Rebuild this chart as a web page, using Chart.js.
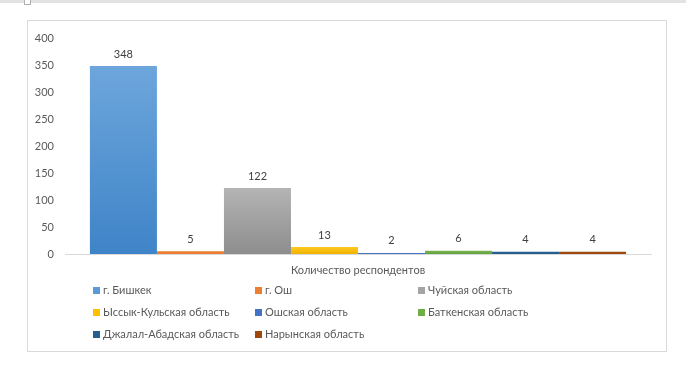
<!DOCTYPE html>
<html>
<head>
<meta charset="utf-8">
<script src="https://cdn.jsdelivr.net/npm/chart.js@4"></script>
<style>
  html, body { margin: 0; padding: 0; background: #fff; }
  body { width: 686px; height: 374px; position: relative; overflow: hidden; font-family: Lato, "Noto Sans", sans-serif; }
  #topstrip { position: absolute; left: 0; top: 0; width: 686px; height: 3px; background: #e3e3e3; }
  #handle { position: absolute; left: 24px; top: -2px; width: 5px; height: 5px; border: 1px solid #b0b0b0; background: #fff; }
  #frame { position: absolute; left: 27px; top: 20px; width: 638px; height: 330px; border: 1px solid #d9d9d9; }
  #c { position: absolute; left: 0; top: 0; }
  .lg { position: absolute; font-size: 11px; color: #595959; white-space: nowrap; line-height: 14px; }
  .lg i { display: inline-block; width: 7px; height: 7px; margin-right: 3px; vertical-align: 0px; }
</style>
</head>
<body>
<div id="topstrip"></div>
<div id="handle"></div>
<div id="frame"></div>
<canvas id="c" width="686" height="374"></canvas>
<div id="legend"></div>
<script>
const categories = ["Количество респондентов"];
const seriesNames = ["г. Бишкек", "г. Ош", "Чуйская область", "Ыссык-Кульская область", "Ошская область", "Баткенская область", "Джалал-Абадская область", "Нарынская область"];
const seriesValues = [348, 5, 122, 13, 2, 6, 4, 4];
const seriesColors = ["#5B9BD5", "#ED7D31", "#A5A5A5", "#FFC000", "#4472C4", "#70AD47", "#255E91", "#9E480E"];
const gradTop = ["#6DA6DC", "#F08A44", "#B4B4B4", "#FFC81F", "#5080CC", "#7CB656", "#2E6AA0", "#A85218"];
const gradBottom = ["#3F84C8", "#E07026", "#8D8D8D", "#F0B200", "#3A63B0", "#61A03B", "#1E5283", "#8F3F0A"];
const yTicks = [0, 50, 100, 150, 200, 250, 300, 350, 400];

const FONT = "Lato, 'Noto Sans', sans-serif";

const datasets = seriesNames.map((name, i) => ({
  label: name,
  data: [seriesValues[i]],
  backgroundColor: (ctx) => {
    const chart = ctx.chart;
    const ys = chart.scales && chart.scales.y;
    if (!ys || !chart.chartArea || ctx.raw === undefined) return seriesColors[i];
    const top = ys.getPixelForValue(ctx.raw);
    const bottom = ys.getPixelForValue(0);
    if (!isFinite(top) || bottom - top < 3) return seriesColors[i];
    const g = chart.ctx.createLinearGradient(0, top, 0, bottom);
    g.addColorStop(0, gradTop[i]);
    g.addColorStop(1, gradBottom[i]);
    return g;
  },
  borderWidth: 0,
  categoryPercentage: 0.915,
  barPercentage: 1.0
}));

const valueLabels = {
  id: 'valueLabels',
  afterDatasetsDraw(chart) {
    const ctx = chart.ctx;
    ctx.save();
    ctx.font = "11px " + FONT;
    ctx.fillStyle = "#404040";
    ctx.textAlign = "center";
    ctx.textBaseline = "middle";
    chart.data.datasets.forEach((ds, di) => {
      const meta = chart.getDatasetMeta(di);
      meta.data.forEach((el, j) => {
        ctx.fillText(String(ds.data[j]), el.x, el.y - 12);
      });
    });
    ctx.restore();
  }
};

new Chart(document.getElementById('c'), {
  type: 'bar',
  data: { labels: categories, datasets },
  options: {
    responsive: false,
    animation: false,
    layout: { padding: { left: 20, right: 35, top: 38, bottom: 90 } },
    plugins: { legend: { display: false }, tooltip: { enabled: false } },
    scales: {
      x: {
        grid: { display: false, drawTicks: false },
        border: { display: true, color: "#d9d9d9", width: 1 },
        ticks: { color: "#595959", font: { size: 11, family: FONT }, padding: 10 },
        afterFit(s) { s.height = 30; }
      },
      y: {
        min: 0, max: 400,
        afterBuildTicks(s) { s.ticks = yTicks.map(v => ({ value: v })); },
        grid: { display: false, drawTicks: false },
        border: { display: false },
        ticks: { color: "#595959", font: { size: 11, family: FONT }, padding: 11 },
        afterFit(s) { s.width = 45; }
      }
    }
  },
  plugins: [valueLabels]
});

// HTML legend, 3 columns
const legendCols = [93, 255, 418];
const legendRows = [283, 305, 327];
const lg = document.getElementById('legend');
seriesNames.forEach((name, i) => {
  const d = document.createElement('div');
  d.className = 'lg';
  d.style.left = legendCols[i % 3] + 'px';
  d.style.top = legendRows[Math.floor(i / 3)] + 'px';
  d.innerHTML = '<i style="background:' + seriesColors[i] + '"></i>' + name;
  lg.appendChild(d);
});
</script>
</body>
</html>
